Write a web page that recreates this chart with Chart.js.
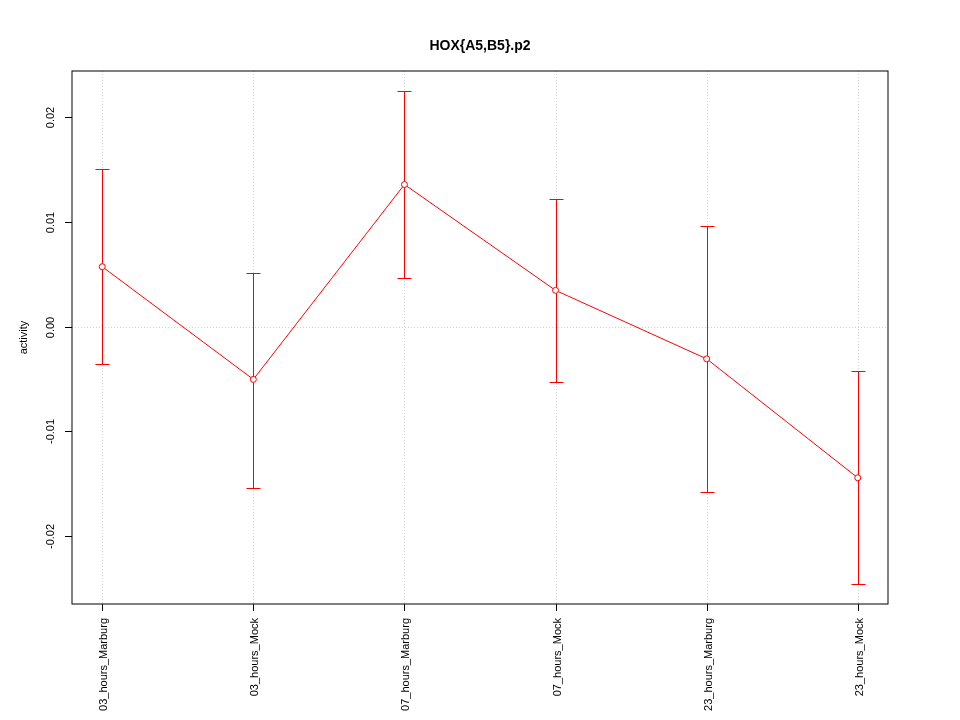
<!DOCTYPE html>
<html>
<head>
<meta charset="utf-8">
<script src="https://cdn.jsdelivr.net/npm/chart.js@4/dist/chart.umd.min.js"></script>
<style>
  html, body { margin: 0; padding: 0; background: #fff; }
  #wrap { width: 960px; height: 720px; }
</style>
</head>
<body>
<div id="wrap"><canvas id="hoxChart" width="960" height="720"></canvas></div>
<script>
// values
const categories = ['03_hours_Marburg', '03_hours_Mock', '07_hours_Marburg', '07_hours_Mock', '23_hours_Marburg', '23_hours_Mock'];
const activity = [0.00571, -0.00505, 0.01356, 0.00345, -0.00309, -0.01445];
const upper = [0.01506, 0.00514, 0.02253, 0.01219, 0.00964, -0.00427];
const lower = [-0.00360, -0.01544, 0.00463, -0.00529, -0.01582, -0.02462];
const yTicks = [-0.02, -0.01, 0, 0.01, 0.02];
const yTickLabels = ['-0.02', '-0.01', '0.00', '0.01', '0.02'];

const FONT = '"Liberation Sans", Arial, sans-serif';
const RED = '#ff0000';

// R-like decorations: grid, error bars, box, axes and titles
const rPlot = {
    id: 'rPlot',
    beforeDatasetsDraw(chart) {
        const ctx = chart.ctx;
        const area = chart.chartArea;
        const xs = chart.scales.x;
        const ys = chart.scales.y;
        ctx.save();
        // dotted grid
        ctx.strokeStyle = '#d3d3d3';
        ctx.lineWidth = 1;
        ctx.setLineDash([1, 2]);
        categories.forEach((c, i) => {
            const x = Math.round(xs.getPixelForValue(i + 1)) + 0.5;
            ctx.beginPath();
            ctx.moveTo(x, area.top);
            ctx.lineTo(x, area.bottom);
            ctx.stroke();
        });
        const y0 = Math.round(ys.getPixelForValue(0)) + 0.5;
        ctx.beginPath();
        ctx.moveTo(area.left, y0);
        ctx.lineTo(area.right, y0);
        ctx.stroke();
        ctx.setLineDash([]);

        // error bars
        ctx.strokeStyle = RED;
        categories.forEach((c, i) => {
            const x = Math.round(xs.getPixelForValue(i + 1)) + 0.5;
            const yt = Math.round(ys.getPixelForValue(upper[i])) + 0.5;
            const yb = Math.round(ys.getPixelForValue(lower[i])) + 0.5;
            ctx.beginPath();
            ctx.moveTo(x, yt);
            ctx.lineTo(x, yb);
            ctx.moveTo(x - 7, yt);
            ctx.lineTo(x + 7, yt);
            ctx.moveTo(x - 7, yb);
            ctx.lineTo(x + 7, yb);
            ctx.stroke();
        });
        ctx.restore();
    },
    afterDatasetsDraw(chart) {
        const ctx = chart.ctx;
        const area = chart.chartArea;
        const xs = chart.scales.x;
        const ys = chart.scales.y;
        ctx.save();
        ctx.strokeStyle = '#000';
        ctx.lineWidth = 1;
        ctx.strokeRect(area.left, area.top, area.right - area.left, area.bottom - area.top);

        ctx.fillStyle = '#000';
        ctx.font = '11px ' + FONT;

        // y axis ticks + labels (rotated like R)
        yTicks.forEach((v, i) => {
            const y = Math.round(ys.getPixelForValue(v)) + 0.5;
            ctx.beginPath();
            ctx.moveTo(area.left - 7, y);
            ctx.lineTo(area.left, y);
            ctx.stroke();
            ctx.save();
            ctx.translate(54, y);
            ctx.rotate(-Math.PI / 2);
            ctx.textAlign = 'center';
            ctx.textBaseline = 'alphabetic';
            ctx.fillText(yTickLabels[i], 0, 0);
            ctx.restore();
        });

        // x axis ticks + labels
        categories.forEach((c, i) => {
            const x = Math.round(xs.getPixelForValue(i + 1)) + 0.5;
            ctx.beginPath();
            ctx.moveTo(x, area.bottom);
            ctx.lineTo(x, area.bottom + 7);
            ctx.stroke();
            ctx.save();
            ctx.translate(x + 4, area.bottom + 14);
            ctx.rotate(-Math.PI / 2);
            ctx.textAlign = 'right';
            ctx.textBaseline = 'alphabetic';
            ctx.fillText(c, 0, 0);
            ctx.restore();
        });

        // axis title
        ctx.save();
        ctx.translate(27, (area.top + area.bottom) / 2);
        ctx.rotate(-Math.PI / 2);
        ctx.textAlign = 'center';
        ctx.fillText('activity', 0, 0);
        ctx.restore();

        // main title
        ctx.font = 'bold 14px ' + FONT;
        ctx.textAlign = 'center';
        ctx.fillText('HOX{A5,B5}.p2', (area.left + area.right) / 2, 50);
        ctx.restore();
    }
};

const ctx = document.getElementById('hoxChart').getContext('2d');
const hoxChart = new Chart(ctx, {
    type: 'line',
    data: {
        datasets: [{
            label: 'activity',
            data: activity.map((v, i) => ({ x: i + 1, y: v })),
            borderColor: RED,
            borderWidth: 1,
            pointRadius: 3,
            pointBorderWidth: 1,
            pointBorderColor: RED,
            pointBackgroundColor: '#fff',
            tension: 0,
            fill: false
        }]
    },
    options: {
        responsive: false,
        animation: false,
        layout: { padding: { top: 71, right: 72, left: 0, bottom: 0 } },
        scales: {
            x: {
                type: 'linear',
                min: 0.8,
                max: 6.2,
                ticks: { display: false },
                grid: { display: false },
                border: { display: false },
                afterFit: s => { s.height = 116; }
            },
            y: {
                min: -0.0265,
                max: 0.0244,
                ticks: { display: false },
                grid: { display: false },
                border: { display: false },
                afterFit: s => { s.width = 72; }
            }
        },
        plugins: {
            legend: { display: false },
            title: { display: false },
            tooltip: { enabled: false }
        }
    },
    plugins: [rPlot]
});
</script>
</body>
</html>
